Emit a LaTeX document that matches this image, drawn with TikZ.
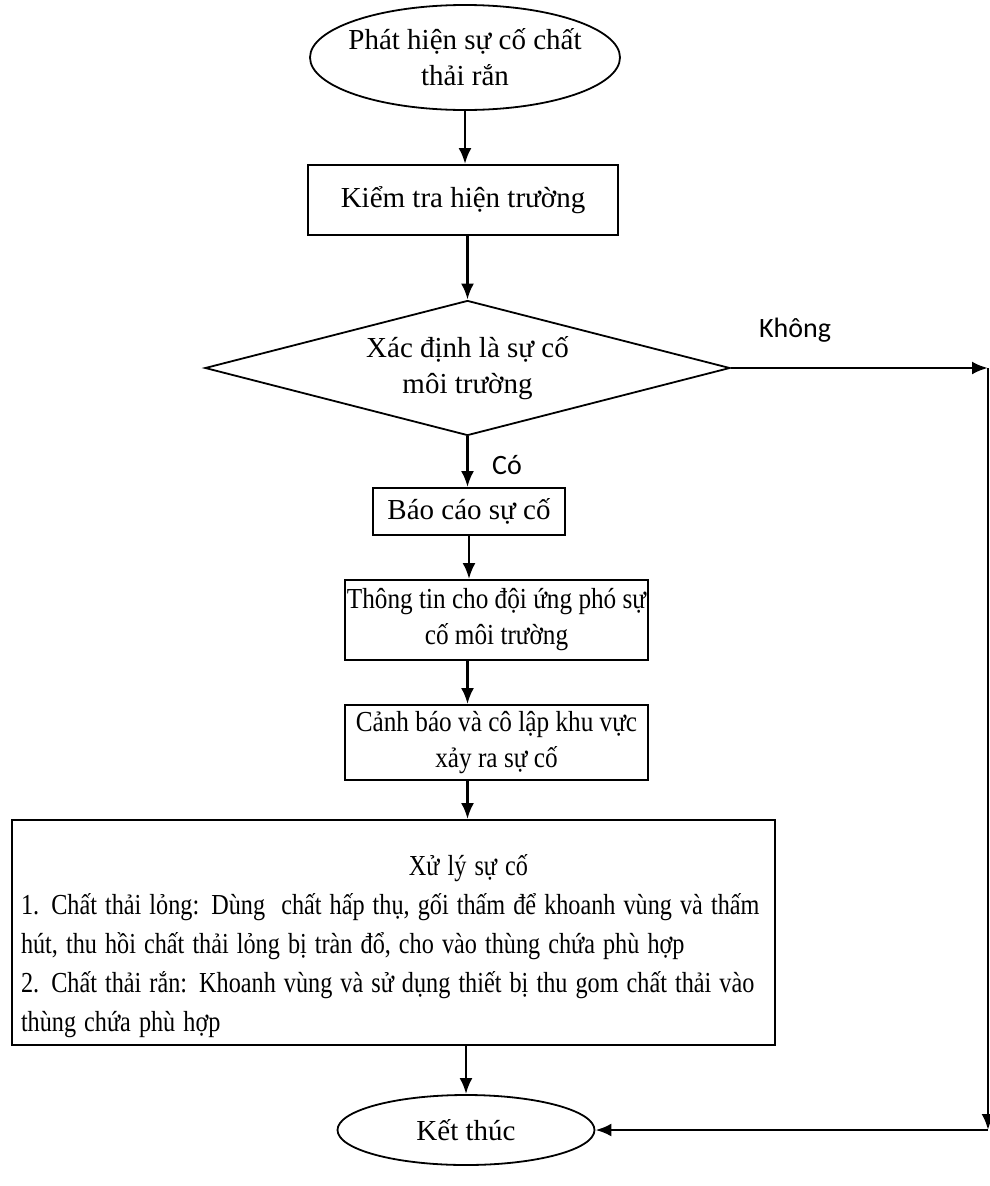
\documentclass[tikz,border=0pt]{standalone}
\usepackage{fontspec}
\usepackage{graphicx}
\setmainfont{Liberation Serif}
\newfontfamily\labelfont{Carlito}
\usetikzlibrary{shapes.geometric,arrows.meta}

% squeeze one line of text sideways
\newcommand{\narrowline}[2][0.87]{\scalebox{#1}[1]{#2}}

\tikzset{
  box/.style={draw, line width=1.8pt, rectangle, align=center, inner sep=0pt},
  oval/.style={draw, line width=1.8pt, ellipse, align=center, inner sep=0pt},
  decision/.style={draw, line width=1.8pt, diamond, aspect=3.9, align=center, inner sep=0pt},
  flow/.style={line width=2.8pt, -{Latex[length=16pt,width=13pt]}},
  answer/.style={font=\labelfont\fontsize{28}{32}\selectfont},
}

\begin{document}
\begin{tikzpicture}[x=1pt,y=-1pt,font=\fontsize{29}{36}\selectfont]
        \useasboundingbox (0,0) rectangle (990,1186);

        % Start and first check
        \node[oval, inner xsep=-8pt, minimum width=310pt, minimum height=105pt] (start) at (465,57.5) {Phát hiện sự cố chất\\thải rắn};
        \node[box, minimum width=310pt, minimum height=70pt] (check) at (463,200) {Kiểm tra hiện trường};

        % Decision
        \node[decision, minimum width=525pt, minimum height=135pt] (decide) at (467.5,368) {Xác định là sự cố\\môi trường};
        \node[answer] (no) at (795,330) {Không};
        \node[answer] (yes) at (507,465) {Có};

        % Steps
        \node[box, minimum width=192pt, minimum height=47pt] (report) at (469,511.5) {Báo cáo sự cố};
        \node[box, minimum width=303pt, minimum height=80pt] (inform) at (496.5,620) {\narrowline{Thông tin cho đội ứng phó sự}\\\narrowline{cố môi trường}};
        \node[box, minimum width=303pt, minimum height=75pt] (warn) at (496.5,742.5) {\narrowline{Cảnh báo và cô lập khu vực}\\\narrowline{xảy ra sự cố}};
        \node[box, minimum width=763pt, minimum height=225pt, text width=745pt, align=left,
              font=\fontsize{29}{39}\selectfont] (handle) at (393.5,932.5) {%
            \rule{0pt}{48pt}\hspace*{388pt}\narrowline[0.835]{Xử lý sự cố}\\
            \narrowline[0.835]{1. Chất thải lỏng: Dùng~ chất hấp thụ, gối thấm để khoanh vùng và thấm}\\
            \narrowline[0.835]{hút, thu hồi chất thải lỏng bị tràn đổ, cho vào thùng chứa phù hợp}\\
            \narrowline[0.835]{2. Chất thải rắn: Khoanh vùng và sử dụng thiết bị thu gom chất thải vào}\\
            \narrowline[0.835]{thùng chứa phù hợp}};

        % End
        \node[oval, minimum width=257pt, minimum height=70pt] (stop) at (466,1130) {Kết thúc};

        % Main flow
        \draw[flow] (start.south) -- (start.south |- check.north);
        \draw[flow] (decide.north |- check.south) -- (decide.north);
        \draw[flow] (decide.south) -- (decide.south |- report.north);
        \draw[flow] (report.south) -- (report.south |- inform.north);
        \draw[flow] (decide.south |- inform.south) -- (decide.south |- warn.north);
        \draw[flow] (decide.south |- warn.south) -- (decide.south |- handle.north);
        \draw[flow] (stop.north |- handle.south) -- (stop.north);

        % "Không" branch
        \coordinate (turnA) at (988,368);
        \coordinate (turnB) at (988,1130);
        \draw[flow] (decide.east) -- (turnA);
        \draw[flow] (turnA) -- (turnB);
        \draw[flow] (turnB) -- (stop.east);
    \end{tikzpicture}
\end{document}
